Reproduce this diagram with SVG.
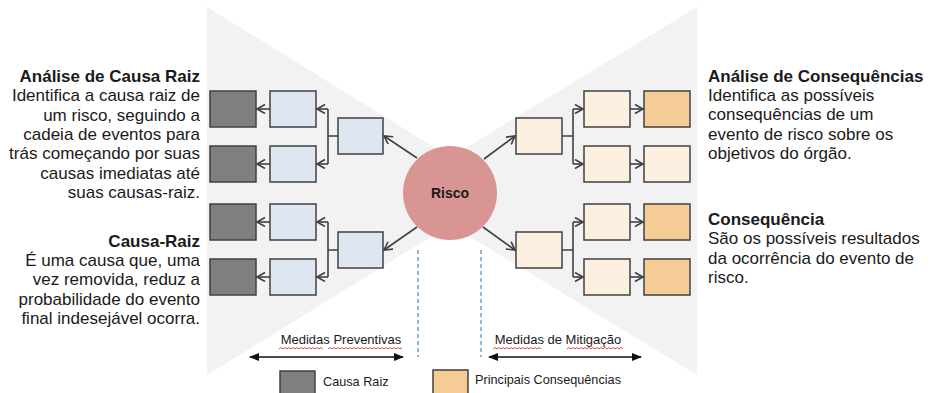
<svg xmlns="http://www.w3.org/2000/svg" width="939" height="393" viewBox="0 0 939 393">
<style>
.t{font-family:"Liberation Sans",Arial,sans-serif;fill:#1a1a1a}
.h{font-size:17px;font-weight:bold}
.b{font-size:17px}
.s{font-size:13px}
.l{font-size:12.7px}
.box{stroke:#404040;stroke-width:1.5}
.dk{fill:#7f7f7f}
.bl{fill:#dee6f1}
.pc{fill:#fcefdf}
.or{fill:#f5cb96}
.c{stroke:#404040;stroke-width:1.6;fill:none}
.a{marker-end:url(#ar)}
.dash{stroke:#5b8fd0;stroke-width:1.3;stroke-dasharray:4 3}
.sq{stroke:#e03030;stroke-width:0.9;fill:none}
.dbl{stroke:#111;stroke-width:1.5;marker-start:url(#fa);marker-end:url(#fa)}
</style>
<defs>
<marker id="ar" markerUnits="userSpaceOnUse" markerWidth="12" markerHeight="12" refX="9" refY="5" orient="auto">
<path d="M1,0.5 L9,5 L1,9.5" fill="none" stroke="#404040" stroke-width="1.6"/>
</marker>
<marker id="fa" markerUnits="userSpaceOnUse" markerWidth="12" markerHeight="10" refX="9" refY="4" orient="auto-start-reverse">
<path d="M0,0 L10,4 L0,8 Z" fill="#111"/>
</marker>
</defs>
<rect width="939" height="393" fill="#fff"/>
<g id="background">
<polygon points="207,7 207,375 505,191" fill="#f2f2f2"/>
<polygon points="697,7 697,375 395,191" fill="#f2f2f2"/>
</g>
<g id="connectors">
<line class="c a" x1="417" y1="158" x2="384" y2="136"/>
<line class="c a" x1="417" y1="227" x2="384" y2="250"/>
<line class="c a" x1="484" y1="159" x2="515" y2="136"/>
<line class="c a" x1="483" y1="227" x2="515" y2="250"/>
<path class="c" d="M338,136 H328 M328,109 V164"/>
<line class="c a" x1="328" y1="109" x2="317" y2="109"/>
<line class="c a" x1="328" y1="164" x2="317" y2="164"/>
<line class="c a" x1="270" y1="109" x2="257" y2="109"/>
<line class="c a" x1="270" y1="164" x2="257" y2="164"/>
<path class="c" d="M338,250 H328 M328,222 V277"/>
<line class="c a" x1="328" y1="222" x2="317" y2="222"/>
<line class="c a" x1="328" y1="277" x2="317" y2="277"/>
<line class="c a" x1="270" y1="222" x2="257" y2="222"/>
<line class="c a" x1="270" y1="277" x2="257" y2="277"/>
<path class="c" d="M562,136 H573 M573,109 V164"/>
<line class="c a" x1="573" y1="109" x2="583" y2="109"/>
<line class="c a" x1="573" y1="164" x2="583" y2="164"/>
<line class="c a" x1="630" y1="109" x2="643" y2="109"/>
<line class="c a" x1="630" y1="164" x2="643" y2="164"/>
<path class="c" d="M562,250 H573 M573,222 V277"/>
<line class="c a" x1="573" y1="222" x2="583" y2="222"/>
<line class="c a" x1="573" y1="277" x2="583" y2="277"/>
<line class="c a" x1="630" y1="222" x2="643" y2="222"/>
<line class="c a" x1="630" y1="277" x2="643" y2="277"/>
<line class="dash" x1="418" y1="250" x2="418" y2="357"/>
<line class="dash" x1="481" y1="250" x2="481" y2="357"/>
<line class="dbl" x1="250" y1="357" x2="403" y2="357"/>
<line class="dbl" x1="489" y1="357" x2="641" y2="357"/>
</g>
<g id="risco">
<circle cx="450" cy="193" r="47" fill="#d99594"/>
<text class="t" x="450" y="198" font-size="14" font-weight="bold" text-anchor="middle">Risco</text>
</g>
<g id="causa-raiz-1"><rect class="box dk" x="210" y="91" width="46" height="36"/></g>
<g id="causa-raiz-2"><rect class="box dk" x="210" y="146" width="46" height="36"/></g>
<g id="causa-raiz-3"><rect class="box dk" x="210" y="204" width="46" height="36"/></g>
<g id="causa-raiz-4"><rect class="box dk" x="210" y="259" width="46" height="36"/></g>
<g id="causa-1"><rect class="box bl" x="270" y="91" width="46" height="36"/></g>
<g id="causa-2"><rect class="box bl" x="270" y="146" width="46" height="36"/></g>
<g id="causa-3"><rect class="box bl" x="270" y="204" width="46" height="36"/></g>
<g id="causa-4"><rect class="box bl" x="270" y="259" width="46" height="36"/></g>
<g id="causa-imediata-1"><rect class="box bl" x="338" y="118" width="45" height="36"/></g>
<g id="causa-imediata-2"><rect class="box bl" x="338" y="232" width="45" height="36"/></g>
<g id="consequencia-imediata-1"><rect class="box pc" x="516" y="118" width="46" height="36"/></g>
<g id="consequencia-imediata-2"><rect class="box pc" x="516" y="232" width="46" height="36"/></g>
<g id="consequencia-1"><rect class="box pc" x="584" y="91" width="46" height="36"/></g>
<g id="consequencia-2"><rect class="box pc" x="584" y="146" width="46" height="36"/></g>
<g id="consequencia-3"><rect class="box pc" x="584" y="204" width="46" height="36"/></g>
<g id="consequencia-4"><rect class="box pc" x="584" y="259" width="46" height="36"/></g>
<g id="principal-1"><rect class="box or" x="644" y="91" width="46" height="36"/></g>
<g id="consequencia-final-2"><rect class="box pc" x="644" y="146" width="46" height="36"/></g>
<g id="principal-3"><rect class="box or" x="644" y="204" width="46" height="36"/></g>
<g id="principal-4"><rect class="box or" x="644" y="259" width="46" height="36"/></g>
<g id="texto-esquerda" class="t" text-anchor="end">
<text class="h" x="200" y="82">Análise de Causa Raiz</text>
<text class="b" x="200" y="101">Identifica a causa raiz de</text>
<text class="b" x="200" y="121">um risco, seguindo a</text>
<text class="b" x="200" y="140">cadeia de eventos para</text>
<text class="b" x="200" y="159">trás começando por suas</text>
<text class="b" x="200" y="179">causas imediatas até</text>
<text class="b" x="200" y="198">suas causas-raiz.</text>
<text class="h" x="200" y="247">Causa-Raiz</text>
<text class="b" x="200" y="266">É uma causa que, uma</text>
<text class="b" x="200" y="285">vez removida, reduz a</text>
<text class="b" x="200" y="305">probabilidade do evento</text>
<text class="b" x="200" y="324">final indesejável ocorra.</text>
</g>
<g id="texto-direita" class="t">
<text class="h" x="708" y="82">Análise de Consequências</text>
<text class="b" x="708" y="101">Identifica as possíveis</text>
<text class="b" x="708" y="120">consequências de um</text>
<text class="b" x="708" y="140">evento de risco sobre os</text>
<text class="b" x="708" y="159">objetivos do órgão.</text>
<text class="h" x="708" y="225">Consequência</text>
<text class="b" x="708" y="244">São os possíveis resultados</text>
<text class="b" x="708" y="264">da ocorrência do evento de</text>
<text class="b" x="708" y="283">risco.</text>
</g>
<g id="medidas-preventivas">
<text class="t s" x="341" y="344" text-anchor="middle">Medidas Preventivas</text>
<path class="sq" d="M279,349 l2,-1.5 l2,1.5 l2,-1.5 l2,1.5 l2,-1.5 l2,1.5 l2,-1.5 l2,1.5 l2,-1.5 l2,1.5 l2,-1.5 l2,1.5 l2,-1.5 l2,1.5 l2,-1.5 l2,1.5 l2,-1.5 l2,1.5 l2,-1.5 l2,1.5 l2,-1.5 l2,1.5 M328,349 l2,-1.5 l2,1.5 l2,-1.5 l2,1.5 l2,-1.5 l2,1.5 l2,-1.5 l2,1.5 l2,-1.5 l2,1.5 l2,-1.5 l2,1.5 l2,-1.5 l2,1.5 l2,-1.5 l2,1.5 l2,-1.5 l2,1.5 l2,-1.5 l2,1.5 l2,-1.5 l2,1.5 l2,-1.5 l2,1.5 l2,-1.5 l2,1.5 l2,-1.5 l2,1.5 l2,-1.5 l2,1.5 l2,-1.5 l2,1.5 l2,-1.5 l2,1.5 l2,-1.5 l2,1.5 l2,-1.5"/>
</g>
<g id="medidas-mitigacao">
<text class="t s" x="558" y="344" text-anchor="middle">Medidas de Mitigação</text>
<path class="sq" d="M493,349 l2,-1.5 l2,1.5 l2,-1.5 l2,1.5 l2,-1.5 l2,1.5 l2,-1.5 l2,1.5 l2,-1.5 l2,1.5 l2,-1.5 l2,1.5 l2,-1.5 l2,1.5 l2,-1.5 l2,1.5 l2,-1.5 l2,1.5 l2,-1.5 l2,1.5 l2,-1.5 l2,1.5 l2,-1.5 l2,1.5 M567,349 l2,-1.5 l2,1.5 l2,-1.5 l2,1.5 l2,-1.5 l2,1.5 l2,-1.5 l2,1.5 l2,-1.5 l2,1.5 l2,-1.5 l2,1.5 l2,-1.5 l2,1.5 l2,-1.5 l2,1.5 l2,-1.5 l2,1.5 l2,-1.5 l2,1.5 l2,-1.5 l2,1.5 l2,-1.5 l2,1.5 l2,-1.5 l2,1.5 l2,-1.5 l2,1.5"/>
</g>
<g id="legenda-causa-raiz">
<rect class="box dk" x="280" y="371" width="35" height="26"/>
<text class="t l" x="323" y="386">Causa Raiz</text>
</g>
<g id="legenda-principais">
<rect class="box or" x="433" y="370" width="35" height="27"/>
<text class="t l" x="475" y="384">Principais Consequências</text>
</g>
</svg>
